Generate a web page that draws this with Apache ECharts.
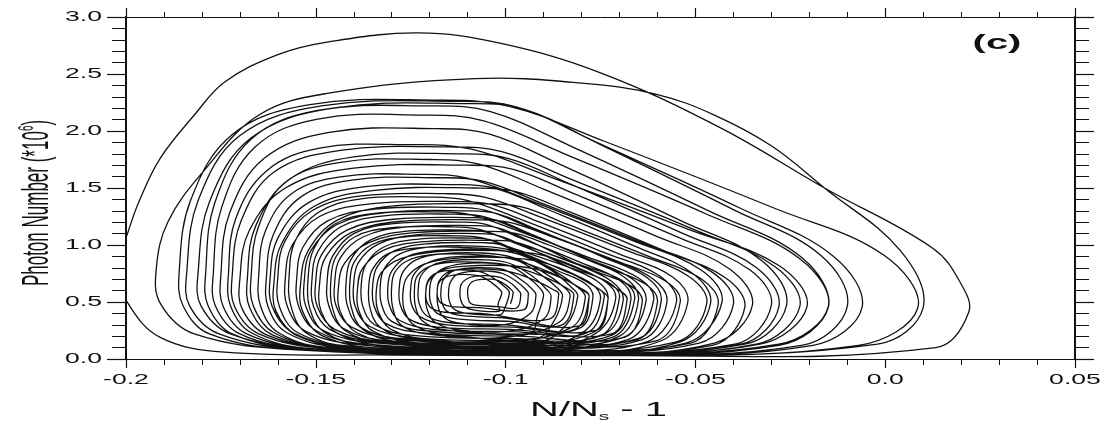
<!DOCTYPE html>
<html><head><meta charset="utf-8">
<script src="https://cdn.jsdelivr.net/npm/echarts@6/dist/echarts.min.js"></script>
<style>html,body{margin:0;padding:0;background:#fff}#c{width:1107px;height:431px}</style>
</head><body><div id="c"></div>
<script>
// tick values and labels
const xTickValues = [-0.2, -0.15, -0.1, -0.05, 0, 0.05];
const xTickLabels = ['-0.2', '-0.15', '-0.1', '-0.05', '0.0', '0.05'];
const yTickValues = [0, 0.5, 1.0, 1.5, 2.0, 2.5, 3.0];
const yTickLabels = ['0.0', '0.5', '1.0', '1.5', '2.0', '2.5', '3.0'];

// trajectory loops, points [N/Ns - 1, photon number (*10^6)]
const loop01 = [[-0.05,0.03],[-0.13,0.035],[-0.174,0.06],[-0.191,0.19],[-0.1995,0.49],[-0.2025,0.8],[-0.1995,1.11],[-0.1966,1.38],[-0.191,1.76],[-0.182,2.14],[-0.174,2.43],[-0.16,2.67],[-0.147,2.78],[-0.123,2.86],[-0.1015,2.77],[-0.075,2.51],[-0.0435,2.03],[-0.016,1.5],[0.0126,0.97],[0.0197,0.675],[0.022,0.41],[0.0133,0.1]];
const loop02 = [[-0.07,0.03],[-0.154,0.08],[-0.182,0.22],[-0.191,0.49],[-0.192,0.8],[-0.189,1.2],[-0.18,1.63],[-0.165,2.14],[-0.147,2.33],[-0.108,2.46],[-0.08,2.42],[-0.06,2.32],[-0.045,2.14],[-0.03,1.87],[-0.016,1.5],[0.004,0.95],[0.01,0.45],[-0.002,0.13]];
const loop03 = [[-0.08,0.035],[-0.155,0.08],[-0.178,0.22],[-0.185,0.47],[-0.186,0.76],[-0.183,1.39],[-0.172,1.97],[-0.152,2.23],[-0.118,2.27],[-0.099,2.215],[-0.074,1.91],[-0.029,1.32],[-0.0003,0.91],[0.0086,0.45],[-0.007,0.12]];
const loop04 = [[-0.081,0.035],[-0.152,0.08],[-0.1755,0.22],[-0.1833,0.47],[-0.184,0.76],[-0.181,1.39],[-0.17,1.96],[-0.1485,2.22],[-0.113,2.26],[-0.097,2.21],[-0.076,1.9],[-0.038,1.32],[-0.0136,0.9],[-0.0061,0.45],[-0.019,0.12]];
const loop05 = [[-0.08,0.04],[-0.149,0.08],[-0.1725,0.22],[-0.1803,0.47],[-0.181,0.76],[-0.178,1.38],[-0.167,1.94],[-0.1455,2.2],[-0.11,2.24],[-0.095,2.19],[-0.075,1.88],[-0.04,1.31],[-0.017,0.91],[-0.01,0.46],[-0.022,0.12]];
const loop06 = [[-0.0885,0.04],[-0.152,0.08],[-0.172,0.22],[-0.1784,0.47],[-0.179,0.76],[-0.1766,1.37],[-0.167,1.93],[-0.1495,2.18],[-0.12,2.22],[-0.104,2.17],[-0.083,1.87],[-0.0465,1.3],[-0.022,0.89],[-0.015,0.45],[-0.028,0.12]];
const loop07 = [[-0.09,0.045],[-0.152,0.09],[-0.17,0.22],[-0.1765,0.47],[-0.177,0.75],[-0.1748,1.33],[-0.166,1.86],[-0.1495,2.105],[-0.122,2.14],[-0.106,2.09],[-0.0845,1.8],[-0.047,1.27],[-0.0225,0.88],[-0.015,0.46],[-0.028,0.13]];
const loop08 = [[-0.094,0.05],[-0.151,0.09],[-0.167,0.23],[-0.1725,0.47],[-0.173,0.75],[-0.1711,1.23],[-0.163,1.65],[-0.149,1.85],[-0.125,1.88],[-0.109,1.84],[-0.0885,1.6],[-0.052,1.14],[-0.028,0.82],[-0.0206,0.46],[-0.033,0.13]];
const loop09 = [[-0.087,0.05],[-0.146,0.09],[-0.165,0.22],[-0.1714,0.46],[-0.172,0.74],[-0.1697,1.21],[-0.161,1.64],[-0.1435,1.83],[-0.115,1.86],[-0.101,1.82],[-0.083,1.58],[-0.05,1.13],[-0.029,0.81],[-0.0225,0.46],[-0.034,0.13]];
const loop10 = [[-0.0945,0.055],[-0.146,0.1],[-0.161,0.23],[-0.1665,0.47],[-0.167,0.74],[-0.1651,1.16],[-0.158,1.55],[-0.1435,1.725],[-0.12,1.75],[-0.107,1.71],[-0.09,1.49],[-0.0605,1.08],[-0.041,0.79],[-0.035,0.47],[-0.045,0.14]];
const loop11 = [[-0.0946,0.06],[-0.143,0.1],[-0.1576,0.23],[-0.1626,0.46],[-0.163,0.72],[-0.1612,1.09],[-0.154,1.42],[-0.1405,1.57],[-0.118,1.59],[-0.106,1.56],[-0.0907,1.37],[-0.0634,1.01],[-0.0455,0.76],[-0.04,0.48],[-0.049,0.14]];
const loop12 = [[-0.093,0.065],[-0.14,0.1],[-0.156,0.23],[-0.1615,0.46],[-0.162,0.72],[-0.16,1.06],[-0.152,1.37],[-0.1375,1.51],[-0.113,1.53],[-0.103,1.5],[-0.0895,1.32],[-0.066,0.99],[-0.0507,0.75],[-0.046,0.49],[-0.054,0.15]];
const loop13 = [[-0.095,0.07],[-0.14,0.11],[-0.1547,0.23],[-0.1596,0.46],[-0.16,0.72],[-0.1582,1.03],[-0.151,1.3],[-0.138,1.43],[-0.116,1.45],[-0.1056,1.42],[-0.092,1.26],[-0.068,0.95],[-0.052,0.73],[-0.047,0.49],[-0.055,0.15]];
const loop14 = [[-0.094,0.08],[-0.137,0.12],[-0.1525,0.24],[-0.1575,0.46],[-0.158,0.72],[-0.1562,1.0],[-0.149,1.25],[-0.135,1.363],[-0.112,1.38],[-0.103,1.35],[-0.091,1.2],[-0.07,0.92],[-0.056,0.72],[-0.052,0.5],[-0.059,0.16]];
const loop15 = [[-0.097,0.09],[-0.1365,0.13],[-0.15,0.25],[-0.1546,0.47],[-0.155,0.72],[-0.1534,0.98],[-0.147,1.21],[-0.1345,1.315],[-0.114,1.33],[-0.1055,1.305],[-0.094,1.16],[-0.074,0.9],[-0.0615,0.71],[-0.0575,0.5],[-0.064,0.17]];
const loop16 = [[-0.095,0.1],[-0.1336,0.14],[-0.148,0.25],[-0.1526,0.46],[-0.153,0.7],[-0.1513,0.95],[-0.1444,1.18],[-0.1315,1.285],[-0.11,1.3],[-0.1023,1.276],[-0.092,1.14],[-0.074,0.89],[-0.0626,0.71],[-0.059,0.51],[-0.065,0.18]];
const loop17 = [[-0.098,0.11],[-0.134,0.15],[-0.1464,0.26],[-0.1506,0.46],[-0.151,0.7],[-0.1495,0.94],[-0.1434,1.16],[-0.132,1.256],[-0.113,1.27],[-0.1055,1.247],[-0.0955,1.12],[-0.078,0.875],[-0.0665,0.7],[-0.063,0.51],[-0.069,0.19]];
const loop18 = [[-0.096,0.12],[-0.1315,0.15],[-0.145,0.26],[-0.1496,0.46],[-0.15,0.69],[-0.1484,0.92],[-0.1418,1.13],[-0.1295,1.226],[-0.109,1.24],[-0.1024,1.218],[-0.0936,1.1],[-0.078,0.87],[-0.068,0.7],[-0.065,0.52],[-0.07,0.2]];
const loop19 = [[-0.0985,0.13],[-0.131,0.16],[-0.1428,0.27],[-0.1466,0.47],[-0.147,0.69],[-0.1456,0.9],[-0.14,1.1],[-0.1295,1.187],[-0.112,1.2],[-0.1052,1.18],[-0.096,1.06],[-0.0805,0.85],[-0.07,0.69],[-0.067,0.52],[-0.072,0.21]];
const loop20 = [[-0.096,0.14],[-0.128,0.17],[-0.1406,0.28],[-0.1446,0.46],[-0.145,0.68],[-0.1435,0.89],[-0.1376,1.07],[-0.1265,1.158],[-0.108,1.17],[-0.1021,1.15],[-0.094,1.04],[-0.081,0.83],[-0.072,0.68],[-0.069,0.52],[-0.074,0.22]];
const loop21 = [[-0.099,0.15],[-0.128,0.18],[-0.1383,0.28],[-0.1417,0.47],[-0.142,0.68],[-0.1408,0.87],[-0.1358,1.04],[-0.1265,1.119],[-0.111,1.13],[-0.105,1.112],[-0.097,1.01],[-0.083,0.82],[-0.0738,0.68],[-0.071,0.53],[-0.076,0.23]];
const loop22 = [[-0.097,0.16],[-0.125,0.19],[-0.136,0.29],[-0.1397,0.47],[-0.14,0.67],[-0.1387,0.85],[-0.1334,1.01],[-0.1235,1.089],[-0.107,1.1],[-0.1019,1.083],[-0.095,0.99],[-0.083,0.8],[-0.0754,0.67],[-0.073,0.53],[-0.077,0.23]];
const loop23 = [[-0.099,0.18],[-0.125,0.21],[-0.1345,0.3],[-0.1377,0.47],[-0.138,0.66],[-0.1368,0.83],[-0.1322,0.98],[-0.1235,1.05],[-0.109,1.06],[-0.1039,1.044],[-0.097,0.95],[-0.085,0.78],[-0.0774,0.66],[-0.075,0.53],[-0.079,0.25]];
const loop24 = [[-0.097,0.2],[-0.122,0.23],[-0.1315,0.31],[-0.1347,0.47],[-0.135,0.65],[-0.1338,0.81],[-0.1292,0.95],[-0.1205,1.011],[-0.106,1.02],[-0.1016,1.006],[-0.096,0.92],[-0.086,0.77],[-0.079,0.66],[-0.077,0.54],[-0.0805,0.27]];
const loop25 = [[-0.099,0.22],[-0.1217,0.25],[-0.13,0.33],[-0.1327,0.48],[-0.133,0.65],[-0.132,0.79],[-0.128,0.92],[-0.1205,0.981],[-0.108,0.99],[-0.098,0.95],[-0.088,0.79],[-0.081,0.63],[-0.079,0.54],[-0.0825,0.28]];
const loop26 = [[-0.098,0.24],[-0.1193,0.26],[-0.128,0.34],[-0.1307,0.48],[-0.131,0.64],[-0.13,0.77],[-0.1258,0.9],[-0.118,0.952],[-0.105,0.96],[-0.0966,0.92],[-0.088,0.78],[-0.0827,0.63],[-0.081,0.55],[-0.084,0.3]];
const loop27 = [[-0.099,0.26],[-0.118,0.28],[-0.1254,0.35],[-0.1278,0.48],[-0.128,0.63],[-0.1271,0.76],[-0.1236,0.87],[-0.117,0.922],[-0.106,0.93],[-0.098,0.89],[-0.09,0.76],[-0.0846,0.63],[-0.083,0.55],[-0.086,0.32]];
const loop28 = [[-0.098,0.28],[-0.1155,0.3],[-0.1225,0.37],[-0.1248,0.48],[-0.125,0.62],[-0.1242,0.74],[-0.1208,0.84],[-0.1145,0.893],[-0.104,0.9],[-0.0973,0.87],[-0.0907,0.74],[-0.0863,0.62],[-0.085,0.55],[-0.0873,0.33]];
const loop29 = [[-0.1,0.3],[-0.115,0.32],[-0.1208,0.38],[-0.1228,0.49],[-0.123,0.62],[-0.1223,0.73],[-0.1194,0.82],[-0.114,0.864],[-0.105,0.87],[-0.099,0.84],[-0.0931,0.73],[-0.0892,0.61],[-0.088,0.55],[-0.09,0.35]];
const loop30 = [[-0.099,0.33],[-0.1123,0.35],[-0.118,0.4],[-0.1198,0.5],[-0.12,0.61],[-0.1193,0.71],[-0.1166,0.79],[-0.1115,0.834],[-0.103,0.84],[-0.0984,0.81],[-0.0939,0.71],[-0.0909,0.62],[-0.09,0.56],[-0.0916,0.38]];
const loop31 = [[-0.1007,0.36],[-0.1114,0.38],[-0.1155,0.42],[-0.1169,0.51],[-0.117,0.61],[-0.1165,0.69],[-0.1145,0.76],[-0.1108,0.795],[-0.1045,0.8],[-0.1001,0.78],[-0.0957,0.69],[-0.0929,0.61],[-0.092,0.56],[-0.0935,0.4]];
const loop32 = [[-0.1013,0.39],[-0.1103,0.4],[-0.1137,0.44],[-0.1149,0.52],[-0.115,0.6],[-0.1146,0.67],[-0.1129,0.74],[-0.1098,0.766],[-0.1045,0.77],[-0.1008,0.75],[-0.0971,0.68],[-0.0947,0.61],[-0.094,0.57],[-0.0953,0.43]];
const loop33 = [[-0.1016,0.42],[-0.1084,0.43],[-0.111,0.465],[-0.1119,0.53],[-0.112,0.6],[-0.1117,0.655],[-0.1104,0.7],[-0.108,0.727],[-0.104,0.73],[-0.1012,0.714],[-0.0984,0.66],[-0.0966,0.6],[-0.096,0.57],[-0.097,0.45]];
const loop34 = [[-0.1022,0.46],[-0.1073,0.47],[-0.1093,0.49],[-0.1099,0.54],[-0.11,0.59],[-0.1098,0.636],[-0.1088,0.678],[-0.107,0.697],[-0.104,0.7],[-0.1019,0.688],[-0.0998,0.646],[-0.0984,0.604],[-0.098,0.58],[-0.0987,0.484]];
const loop35 = [[-0.1067,0.4],[-0.116,0.41],[-0.1197,0.45],[-0.1209,0.52],[-0.121,0.6],[-0.1206,0.676],[-0.1188,0.744],[-0.1155,0.7755],[-0.11,0.78],[-0.1061,0.76],[-0.1023,0.69],[-0.0998,0.62],[-0.099,0.58],[-0.1003,0.44]];
const loop36 = [[-0.107,0.45],[-0.1142,0.46],[-0.117,0.49],[-0.1179,0.54],[-0.118,0.6],[-0.1177,0.66],[-0.1163,0.71],[-0.1138,0.7365],[-0.1095,0.74],[-0.1065,0.724],[-0.1036,0.668],[-0.1016,0.612],[-0.101,0.58],[-0.102,0.476]];
const loop37 = [[-0.0904,0.04],[-0.1493,0.08],[-0.1682,0.22],[-0.1744,0.46],[-0.175,0.74],[-0.1727,1.28],[-0.1636,1.76],[-0.1465,1.988],[-0.118,2.02],[-0.1042,1.973],[-0.0858,1.71],[-0.0536,1.21],[-0.0324,0.86],[-0.026,0.47],[-0.037,0.13]];
const loop38 = [[-0.0868,0.045],[-0.1428,0.09],[-0.1613,0.21],[-0.1674,0.45],[-0.168,0.72],[-0.1658,1.17],[-0.1568,1.58],[-0.14,1.773],[-0.112,1.8],[-0.0994,1.76],[-0.0826,1.53],[-0.0532,1.1],[-0.0339,0.8],[-0.028,0.46],[-0.0381,0.13]];
const loop39 = [[-0.086,0.04],[-0.143,0.08],[-0.1628,0.21],[-0.1694,0.44],[-0.17,0.7],[-0.1676,1.12],[-0.158,1.5],[-0.14,1.675],[-0.11,1.7],[-0.098,1.663],[-0.082,1.45],[-0.054,1.06],[-0.0356,0.78],[-0.03,0.47],[-0.0396,0.13]];
const loop40 = [[-0.098,0.05],[-0.1456,0.09],[-0.1598,0.23],[-0.1646,0.47],[-0.165,0.75],[-0.1633,1.12],[-0.1564,1.45],[-0.1435,1.598],[-0.122,1.62],[-0.1101,1.586],[-0.0943,1.4],[-0.0667,1.04],[-0.0485,0.78],[-0.043,0.5],[-0.0525,0.14]];
const loop41 = [[-0.087,0.04],[-0.137,0.08],[-0.1546,0.2],[-0.1605,0.42],[-0.161,0.68],[-0.1589,1.02],[-0.1504,1.34],[-0.1345,1.48],[-0.108,1.5],[-0.0973,1.468],[-0.0831,1.29],[-0.0583,0.95],[-0.042,0.71],[-0.037,0.45],[-0.0455,0.12]];
const loop42 = [[-0.1005,0.06],[-0.1403,0.1],[-0.1526,0.23],[-0.1566,0.47],[-0.157,0.74],[-0.1555,1.03],[-0.1496,1.28],[-0.1385,1.403],[-0.12,1.42],[-0.1102,1.392],[-0.0972,1.24],[-0.0745,0.94],[-0.0595,0.73],[-0.055,0.5],[-0.0628,0.15]];
const loop43 = [[-0.0867,0.05],[-0.132,0.09],[-0.1481,0.2],[-0.1535,0.42],[-0.154,0.66],[-0.152,0.95],[-0.1442,1.22],[-0.1295,1.343],[-0.105,1.36],[-0.0958,1.334],[-0.0836,1.18],[-0.0623,0.9],[-0.0483,0.7],[-0.044,0.48],[-0.0513,0.14]];
const loop44 = [[-0.1009,0.08],[-0.1367,0.12],[-0.1479,0.24],[-0.1517,0.46],[-0.152,0.72],[-0.1506,0.96],[-0.1452,1.18],[-0.135,1.276],[-0.118,1.29],[-0.1094,1.267],[-0.098,1.14],[-0.078,0.89],[-0.065,0.71],[-0.061,0.52],[-0.0678,0.17]];
const loop45 = [[-0.0911,0.07],[-0.1301,0.11],[-0.144,0.22],[-0.1486,0.42],[-0.149,0.66],[-0.1473,0.9],[-0.1406,1.11],[-0.128,1.206],[-0.107,1.22],[-0.099,1.198],[-0.0884,1.08],[-0.0699,0.85],[-0.0577,0.68],[-0.054,0.5],[-0.0604,0.16]];
const loop46 = [[-0.1003,0.1],[-0.132,0.14],[-0.1423,0.25],[-0.1457,0.46],[-0.146,0.7],[-0.1448,0.89],[-0.1398,1.07],[-0.1305,1.149],[-0.115,1.16],[-0.1076,1.141],[-0.0978,1.03],[-0.0807,0.83],[-0.0694,0.69],[-0.066,0.53],[-0.0719,0.19]];
const loop47 = [[-0.0908,0.09],[-0.126,0.12],[-0.1392,0.23],[-0.1436,0.42],[-0.144,0.64],[-0.1424,0.84],[-0.136,1.02],[-0.124,1.108],[-0.104,1.12],[-0.0974,1.101],[-0.0886,1.0],[-0.0732,0.8],[-0.0631,0.655],[-0.06,0.5],[-0.0653,0.17]];
const loop48 = [[-0.1001,0.12],[-0.1284,0.15],[-0.1376,0.26],[-0.1407,0.46],[-0.141,0.68],[-0.1399,0.85],[-0.1354,1.0],[-0.127,1.07],[-0.113,1.08],[-0.1065,1.064],[-0.098,0.97],[-0.0829,0.8],[-0.073,0.675],[-0.07,0.54],[-0.0752,0.2]];
const loop49 = [[-0.0913,0.11],[-0.1228,0.14],[-0.1347,0.24],[-0.1386,0.42],[-0.139,0.62],[-0.1376,0.8],[-0.1318,0.96],[-0.121,1.03],[-0.103,1.04],[-0.0971,1.024],[-0.0893,0.93],[-0.0757,0.76],[-0.0667,0.635],[-0.064,0.5],[-0.0687,0.19]];
const loop50 = [[-0.1006,0.15],[-0.1252,0.18],[-0.1331,0.28],[-0.1358,0.46],[-0.136,0.66],[-0.135,0.79],[-0.1312,0.92],[-0.124,0.972],[-0.112,0.98],[-0.0987,0.94],[-0.0854,0.79],[-0.0767,0.64],[-0.074,0.55],[-0.0786,0.23]];
const loop51 = [[-0.0918,0.14],[-0.1196,0.17],[-0.1302,0.26],[-0.1337,0.43],[-0.134,0.62],[-0.1327,0.76],[-0.1276,0.88],[-0.118,0.942],[-0.102,0.95],[-0.0901,0.91],[-0.0782,0.76],[-0.0704,0.61],[-0.068,0.52],[-0.0721,0.22]];
const loop52 = [[-0.1004,0.19],[-0.121,0.22],[-0.1276,0.3],[-0.1298,0.46],[-0.13,0.64],[-0.1292,0.76],[-0.126,0.86],[-0.12,0.913],[-0.11,0.92],[-0.0988,0.88],[-0.0876,0.75],[-0.0802,0.62],[-0.078,0.55],[-0.0818,0.26]];
const loop53 = [[-0.0919,0.18],[-0.1148,0.21],[-0.1238,0.29],[-0.1267,0.43],[-0.127,0.6],[-0.1259,0.72],[-0.1216,0.83],[-0.1135,0.883],[-0.1,0.89],[-0.0905,0.85],[-0.0811,0.73],[-0.0749,0.6],[-0.073,0.53],[-0.0762,0.25]];
const loop54 = [[-0.1002,0.24],[-0.1168,0.26],[-0.1221,0.34],[-0.1238,0.47],[-0.124,0.62],[-0.1234,0.72],[-0.1208,0.8],[-0.116,0.844],[-0.108,0.85],[-0.0989,0.82],[-0.0898,0.72],[-0.0838,0.62],[-0.082,0.56],[-0.0851,0.3]];
const loop55 = [[-0.0934,0.23],[-0.1115,0.25],[-0.1185,0.32],[-0.1208,0.45],[-0.121,0.6],[-0.1202,0.69],[-0.1168,0.78],[-0.1105,0.8145],[-0.1,0.82],[-0.0923,0.79],[-0.0846,0.7],[-0.0795,0.6],[-0.078,0.55],[-0.0806,0.29]];
const loop56 = [[-0.1007,0.3],[-0.113,0.32],[-0.1167,0.38],[-0.1179,0.48],[-0.118,0.6],[-0.1176,0.68],[-0.1158,0.75],[-0.1125,0.785],[-0.107,0.79],[-0.0996,0.77],[-0.0923,0.69],[-0.0875,0.61],[-0.086,0.57],[-0.0885,0.35]];

// the loops in the order the trajectory runs through them (spiralling inwards)
const trajectory = [].concat(loop01, loop02, loop03, loop04, loop05, loop06, loop07, loop37, loop08,
  loop09, loop38, loop10, loop39, loop40, loop11, loop12, loop41, loop13, loop42, loop14, loop43,
  loop15, loop16, loop44, loop17, loop18, loop45, loop19, loop20, loop46, loop21, loop47, loop22,
  loop48, loop23, loop49, loop24, loop25, loop50, loop26, loop51, loop27, loop52, loop28, loop53,
  loop29, loop54, loop30, loop55, loop31, loop56, loop35, loop32, loop36, loop33, loop34);

const chart = echarts.init(document.getElementById('c'), null, {renderer: 'canvas'});
const INK = '#111';
function xAx(pos, len, mlen) {
  return {type: 'value', position: pos, min: -0.2, max: 0.05, interval: 0.05,
    axisLine: {show: true, onZero: false, lineStyle: {color: INK, width: 1}},
    axisTick: {show: true, inside: false, length: len, lineStyle: {color: INK, width: 1.2}},
    minorTick: {show: true, splitNumber: 5, length: mlen, lineStyle: {color: INK, width: 1}},
    axisLabel: {show: false}, splitLine: {show: false}, minorSplitLine: {show: false}};
}
function yAx(pos) {
  return {type: 'value', position: pos, min: 0, max: 3, interval: 0.5,
    axisLine: {show: true, onZero: false, lineStyle: {color: INK, width: 2}},
    axisTick: {show: true, inside: false, length: 19, lineStyle: {color: INK, width: 1.2}},
    minorTick: {show: true, splitNumber: 5, length: 14, lineStyle: {color: INK, width: 1}},
    axisLabel: {show: false}, splitLine: {show: false}, minorSplitLine: {show: false}};
}
// the whole trajectory is drawn once, as one smooth polyline through the data points
function renderTrajectory(params, api) {
  if (params.dataIndex !== 0) return null;
  const cs = params.coordSys;
  const pts = trajectory.map(p => api.coord(p));
  return {type: 'group',
    clipPath: {type: 'rect', shape: {x: cs.x, y: cs.y, width: cs.width, height: cs.height}},
    children: [{type: 'polyline', shape: {points: pts, smooth: 0.38},
      style: {stroke: INK, fill: null, lineWidth: 1.3, lineJoin: 'round'}}]};
}
chart.setOption({
  animation: false,
  backgroundColor: '#fff',
  grid: {left: 126, right: 32, top: 17, bottom: 72, containLabel: false},
  xAxis: [xAx('bottom', 9, 6), xAx('top', 9, 5)],
  yAxis: [yAx('left'), yAx('right')],
  series: [{type: 'custom', xAxisIndex: 0, yAxisIndex: 0, data: trajectory, encode: {x: 0, y: 1},
    clip: true, renderItem: renderTrajectory}]
});

const FONT = '"Liberation Sans", Arial, Helvetica, sans-serif';
const g = [];
const y0 = chart.convertToPixel({yAxisIndex: 0}, 0);
const xl = chart.convertToPixel({xAxisIndex: 0}, -0.2);
const xr = chart.convertToPixel({xAxisIndex: 0}, 0.05);
const yt = chart.convertToPixel({yAxisIndex: 0}, 3);
xTickValues.forEach((v, i) => {
  g.push({type: 'text', silent: true, x: chart.convertToPixel({xAxisIndex: 0}, v), y: y0 + 21, scaleX: 1.9,
    style: {text: xTickLabels[i], font: '14px ' + FONT, fill: INK, align: 'center', verticalAlign: 'middle', textAlign: 'center', textVerticalAlign: 'middle'}});
});
yTickValues.forEach((v, i) => {
  g.push({type: 'text', silent: true, x: xl - 24, y: chart.convertToPixel({yAxisIndex: 0}, v), scaleX: 1.9,
    style: {text: yTickLabels[i], font: '14px ' + FONT, fill: INK, align: 'right', verticalAlign: 'middle', textAlign: 'right', textVerticalAlign: 'middle'}});
});
// x axis title
g.push({type: 'text', silent: true, x: (xl + xr) / 2 - 2, y: y0 + 51, scaleX: 1.9,
  style: {text: '{a|N/N}{s|s}{a| - 1}', fill: INK, align: 'center', verticalAlign: 'middle', textAlign: 'center', textVerticalAlign: 'middle',
    rich: {a: {fontSize: 21, fontFamily: FONT, fill: INK, lineHeight: 24}, s: {fontSize: 11, fontFamily: FONT, fill: INK, verticalAlign: 'bottom', lineHeight: 24}}}});
// y axis title
g.push({type: 'text', silent: true, x: xl - 88, y: (y0 + yt) / 2 + 15, rotation: Math.PI / 2, scaleY: 2.2,
  style: {text: '{a|Photon Number (*10}{b|6}{a|)}', fill: INK, align: 'center', verticalAlign: 'middle', textAlign: 'center', textVerticalAlign: 'middle',
    rich: {a: {fontSize: 17, fontFamily: FONT, fill: INK, lineHeight: 20}, b: {fontSize: 10, fontFamily: FONT, fill: INK, verticalAlign: 'top', lineHeight: 20}}}});
// panel label
g.push({type: 'text', silent: true, x: xr - 78, y: yt + 26, scaleX: 2.0,
  style: {text: '(c)', font: 'bold 20px ' + FONT, fill: INK, align: 'center', verticalAlign: 'middle', textAlign: 'center', textVerticalAlign: 'middle'}});
chart.setOption({graphic: g});
</script></body></html>
